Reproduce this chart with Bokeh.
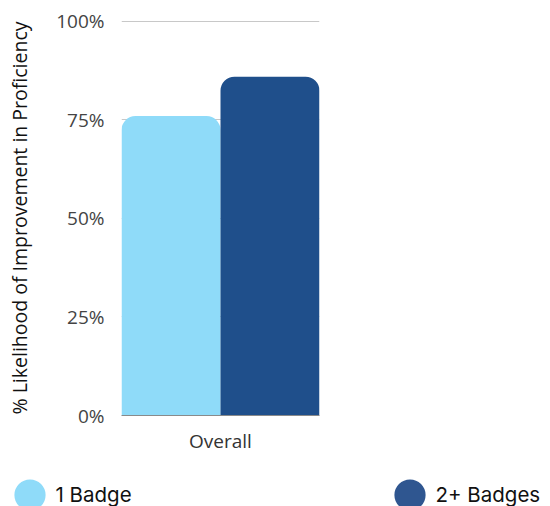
from bokeh.plotting import figure
from bokeh.models import (ColumnDataSource, FactorRange, Range1d, PrintfTickFormatter,
                          FixedTicker, Legend, LegendItem)
from bokeh.layouts import column
from bokeh.transform import dodge
from bokeh.embed import file_html
from bokeh.resources import INLINE

categories = ["Overall"]
series_names = ["1 Badge", "2+ Badges"]
one_badge = [76]
two_badges = [86]
y_ticks = [0, 25, 50, 75, 100]

bar_colors = ["#8fdbf9", "#1f4f8b"]
legend_colors = ["#8fdbf9", "#2f5690"]

src = ColumnDataSource(dict(cat=categories, one=one_badge, two=two_badges))

p = figure(width=550, height=460, output_backend="svg", toolbar_location=None,
           x_range=FactorRange(factors=categories, range_padding=0),
           y_range=Range1d(0, 100.25),
           min_border_left=121, min_border_right=231, min_border_top=20,
           min_border_bottom=45)
p.outline_line_color = None

p.vbar(x=dodge("cat", -0.25, range=p.x_range), top="one", width=0.5, source=src,
       fill_color=bar_colors[0], line_color=None, border_radius=(14, 14, 0, 0))
p.vbar(x=dodge("cat", 0.25, range=p.x_range), top="two", width=0.5, source=src,
       fill_color=bar_colors[1], line_color=None, border_radius=(14, 14, 0, 0))

p.xgrid.grid_line_color = None
p.ygrid.grid_line_color = "#c8c8c8"
p.ygrid.ticker = FixedTicker(ticks=y_ticks)

p.yaxis.ticker = FixedTicker(ticks=y_ticks)
p.yaxis.formatter = PrintfTickFormatter(format="%d%%")
p.yaxis.axis_line_color = None
p.yaxis.major_tick_line_color = None
p.yaxis.minor_tick_line_color = None
p.yaxis.major_tick_out = 0
p.yaxis.major_tick_in = 0
p.yaxis.major_label_standoff = 17
p.yaxis.major_label_text_font = "Open Sans"
p.yaxis.major_label_text_font_size = "19px"
p.yaxis.major_label_text_color = "#444444"
p.yaxis.axis_label = "% Likelihood of Improvement in Proficiency"
p.yaxis.axis_label_text_font = "Open Sans"
p.yaxis.axis_label_text_font_size = "19.5px"
p.yaxis.axis_label_text_font_style = "normal"
p.yaxis.axis_label_text_color = "#111111"
p.yaxis.axis_label_standoff = 20

p.xaxis.axis_line_color = "#8a8a8a"
p.xaxis.major_tick_line_color = None
p.xaxis.minor_tick_line_color = None
p.xaxis.major_tick_out = 0
p.xaxis.major_tick_in = 0
p.xaxis.major_label_text_font = "Open Sans"
p.xaxis.major_label_text_font_size = "19px"
p.xaxis.major_label_text_color = "#333333"
p.xaxis.major_label_standoff = 12

# legend strip below the chart
leg = figure(width=550, height=46, output_backend="svg", toolbar_location=None,
             x_range=FactorRange(factors=categories, range_padding=0),
             y_range=Range1d(0, 1), x_axis_location=None, y_axis_location=None,
             min_border=0, frame_align=False)
leg.outline_line_color = None
leg.grid.visible = False
e1 = leg.ellipse(x=dodge("cat", -0.25, range=leg.x_range), y="one", width=26, height=26,
                 width_units="screen", height_units="screen", source=src,
                 fill_color=legend_colors[0], line_color=None)
e2 = leg.ellipse(x=dodge("cat", 0.25, range=leg.x_range), y="two", width=26, height=26,
                 width_units="screen", height_units="screen", source=src,
                 fill_color=legend_colors[1], line_color=None)
legend = Legend(items=[LegendItem(label=series_names[0], renderers=[e1]),
                       LegendItem(label=series_names[1], renderers=[e2])],
                orientation="horizontal", location=(9.5, -8),
                glyph_width=39, glyph_height=39, label_standoff=7,
                label_width=200, spacing=134, padding=0, margin=0,
                border_line_color=None, background_fill_alpha=0,
                label_text_font="Inter", label_text_font_size="20.5px",
                label_text_color="#111111")
leg.add_layout(legend, "center")

open("out.html", "w").write(file_html(column(p, leg, spacing=0), INLINE))
